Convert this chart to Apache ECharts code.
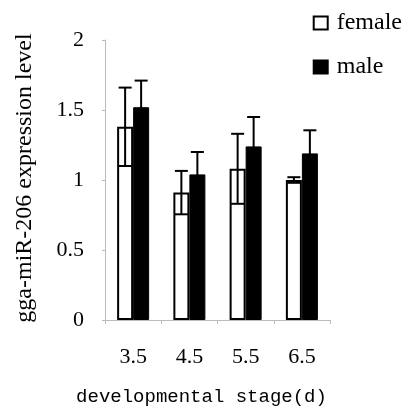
<!DOCTYPE html>
<html><head><meta charset="utf-8">
<script src="https://cdn.jsdelivr.net/npm/echarts@6/dist/echarts.min.js"></script>
<style>html,body{margin:0;padding:0;background:#fff}#c{width:411px;height:415px}</style>
</head><body><div id="c"></div>
<script>
var categories = ['3.5', '4.5', '5.5', '6.5'];
var femaleValues = [1.38, 0.91, 1.08, 1.00];
var femaleErrors = [0.28, 0.155, 0.25, 0.02];
var maleValues = [1.52, 1.04, 1.24, 1.19];
var maleErrors = [0.19, 0.16, 0.21, 0.165];
var yTicks = [0, 0.5, 1, 1.5, 2];

var serif = '"Liberation Serif", "Times New Roman", serif';
var BW = 16;

function errData(vals, errs) {
  return vals.map(function (v, i) { return [i, v - errs[i], v + errs[i]]; });
}
function errRender(offset) {
  return function (params, api) {
    var lo = api.coord([api.value(0), api.value(1)]);
    var hi = api.coord([api.value(0), api.value(2)]);
    var x = lo[0] + offset;
    var cap = 6.5;
    var st = { stroke: '#000', lineWidth: 2 };
    return {
      type: 'group',
      children: [
        { type: 'line', shape: { x1: x, y1: lo[1], x2: x, y2: hi[1] }, style: st },
        { type: 'line', shape: { x1: x - cap, y1: hi[1], x2: x + cap, y2: hi[1] }, style: st },
        { type: 'line', shape: { x1: x - cap, y1: lo[1], x2: x + cap, y2: lo[1] }, style: st }
      ]
    };
  };
}

var chart = echarts.init(document.getElementById('c'), null, { renderer: 'canvas' });
chart.setOption({
  animation: false,
  backgroundColor: '#fff',
  grid: { left: 105, right: 81, top: 40, bottom: 95 },
  legend: {
    orient: 'vertical', right: 4, top: 6,
    itemWidth: 14, itemHeight: 13, itemGap: 20,
    textStyle: { fontFamily: serif, fontSize: 24, lineHeight: 24, color: '#000', padding: [0, 0, 0, 4] },
    data: [
      { name: 'female', icon: 'rect', itemStyle: { color: '#fff', borderColor: '#000', borderWidth: 2 } },
      { name: 'male', icon: 'rect', itemStyle: { color: '#000' } }
    ]
  },
  xAxis: {
    type: 'category', data: categories,
    axisLine: { lineStyle: { color: '#bbb', width: 1 } },
    axisTick: { show: true, length: 4, lineStyle: { color: '#bbb' } },
    axisLabel: { margin: 26, fontFamily: serif, fontSize: 22, color: '#000' },
    name: 'developmental stage(d)', nameLocation: 'middle', nameGap: 67,
    nameTextStyle: { fontFamily: '"Liberation Mono", monospace', fontSize: 19, color: '#000', padding: [0, 32, 0, 0] }
  },
  yAxis: {
    type: 'value', min: 0, max: 2, interval: 0.5,
    splitLine: { show: false },
    axisLine: { show: true, lineStyle: { color: '#bbb', width: 1 } },
    axisTick: { show: true, length: 3, lineStyle: { color: '#bbb' } },
    axisLabel: { margin: 21, fontFamily: serif, fontSize: 22, color: '#000',
      formatter: function (v) { return yTicks.indexOf(v) >= 0 ? String(v) : ''; } },
    name: 'gga-miR-206 expression level', nameLocation: 'middle', nameGap: 68,
    nameTextStyle: { fontFamily: serif, fontSize: 24, color: '#000', padding: [0, 0, 0, 4] }
  },
  series: [
    { name: 'female', type: 'bar', data: femaleValues, barWidth: BW, barGap: '0%',
      itemStyle: { color: '#fff', borderColor: '#000', borderWidth: 2 } },
    { name: 'male', type: 'bar', data: maleValues, barWidth: BW, barGap: '0%',
      itemStyle: { color: '#000', borderColor: '#000', borderWidth: 1 } },
    { name: 'femaleErr', type: 'custom', data: errData(femaleValues, femaleErrors),
      renderItem: errRender(-BW / 2), z: 10, encode: { x: 0, y: [1, 2] } },
    { name: 'maleErr', type: 'custom', data: errData(maleValues, maleErrors),
      renderItem: errRender(BW / 2), z: 10, encode: { x: 0, y: [1, 2] } }
  ]
});
</script></body></html>
